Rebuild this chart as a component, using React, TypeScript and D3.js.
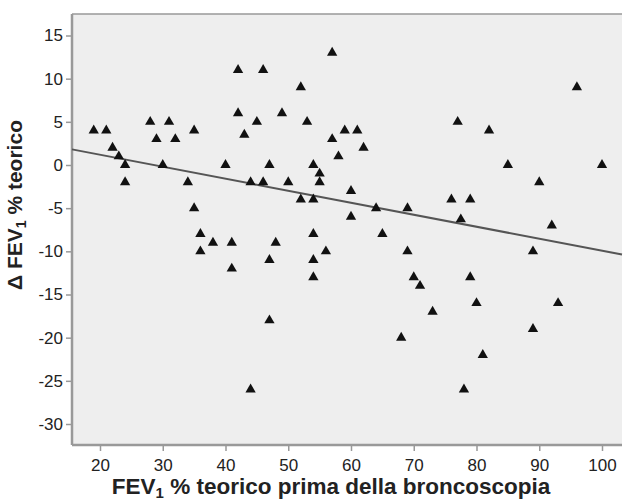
import React, { useEffect, useRef } from "react";
import * as d3 from "d3";

// FEV1 % teorico prima della broncoscopia
const fevBefore = [
  19, 21, 22, 23, 24, 24, 28, 29, 31, 32, 30, 35, 34, 35, 36, 36, 38, 41, 41, 40,
  42, 42, 43, 45, 46, 47, 44, 46, 48, 47, 47, 44, 49, 50, 52, 53, 52, 54, 54, 55,
  55, 54, 54, 54, 56, 57, 59, 61, 57, 62, 58, 60, 60, 64, 65, 69, 69, 70, 71, 73,
  68, 77, 82, 76, 79, 77.5, 79, 80, 81, 78, 85, 90, 89, 89, 92, 93, 96, 100,
];
// Delta FEV1 % teorico
const deltaFev = [
  4, 4, 2, 1, 0, -2, 5, 3, 5, 3, 0, 4, -2, -5, -8, -10, -9, -9, -12, 0,
  11, 6, 3.5, 5, 11, 0, -2, -2, -9, -11, -18, -26, 6, -2, 9, 5, -4, -4, 0, -1,
  -2, -8, -11, -13, -10, 13, 4, 4, 3, 2, 1, -3, -6, -5, -8, -5, -10, -13, -14, -17,
  -20, 5, 4, -4, -4, -6.3, -13, -16, -22, -26, 0, -2, -10, -19, -7, -16, 9, 0,
];
const xTicks = [20, 30, 40, 50, 60, 70, 80, 90, 100];
const yTicks = [15, 10, 5, 0, -5, -10, -15, -20, -25, -30];
// linear fit line
const fitIntercept = 3.97;
const fitSlope = -0.139;

const W = 626;
const H = 500;

export default function App() {
  const ref = useRef<SVGSVGElement>(null);

  useEffect(() => {
    const svg = d3.select(ref.current);
    svg.selectAll("*").remove();

    const left = 72, right = 622, top = 14, bottom = 445;
    const x = d3.scaleLinear().domain([20, 100]).range([100, 602]);
    const y = d3.scaleLinear().domain([0, -30]).range([165, 424]);
    const font = "Liberation Sans, Arial, Helvetica, sans-serif";

    svg.append("rect")
      .attr("x", left).attr("y", top)
      .attr("width", right - left).attr("height", bottom - top)
      .attr("fill", "#eeeeee");

    svg.append("line")
      .attr("x1", left).attr("x2", right).attr("y1", top).attr("y2", top)
      .attr("stroke", "#999").attr("stroke-width", 1.5);

    // axes
    const gy = svg.append("g").attr("transform", `translate(${left},0)`)
      .call(d3.axisLeft(y).tickValues(yTicks).tickSize(6).tickPadding(3).tickFormat((d) => String(d)));
    const gx = svg.append("g").attr("transform", `translate(0,${bottom})`)
      .call(d3.axisBottom(x).tickValues(xTicks).tickSize(6).tickPadding(8).tickFormat((d) => String(d)));
    [gx, gy].forEach((g) => {
      g.select(".domain").remove();
      g.selectAll(".tick line").attr("stroke", "#999").attr("stroke-width", 1.5);
      g.selectAll(".tick text").attr("fill", "#222").attr("font-size", 17).attr("font-family", font);
    });
    svg.append("line")
      .attr("x1", left).attr("x2", left).attr("y1", top).attr("y2", bottom)
      .attr("stroke", "#999").attr("stroke-width", 2.5);
    svg.append("line")
      .attr("x1", left).attr("x2", right).attr("y1", bottom).attr("y2", bottom)
      .attr("stroke", "#999").attr("stroke-width", 2.5);

    // fit line
    const x0 = x.invert(left), x1 = x.invert(right);
    svg.append("line")
      .attr("x1", left).attr("y1", y(fitIntercept + fitSlope * x0))
      .attr("x2", right).attr("y2", y(fitIntercept + fitSlope * x1))
      .attr("stroke", "#555").attr("stroke-width", 2);

    // points
    const tri = d3.symbol().type(d3.symbolTriangle).size(46);
    svg.append("g").selectAll("path")
      .data(fevBefore.map((v, i) => [v, deltaFev[i]]))
      .enter().append("path")
      .attr("d", tri)
      .attr("transform", (d) => `translate(${x(d[0])},${y(d[1])})`)
      .attr("fill", "#111");

    // titles
    const xt = svg.append("text")
      .attr("x", 331).attr("y", 494)
      .attr("text-anchor", "middle")
      .attr("font-family", font).attr("font-weight", "bold").attr("font-size", 22.5)
      .attr("fill", "#222");
    xt.append("tspan").text("FEV");
    xt.append("tspan").text("1").attr("font-size", 15).attr("dy", 4);
    xt.append("tspan").text(" % teorico prima della broncoscopia").attr("dy", -4);

    const yt = svg.append("text")
      .attr("transform", `translate(22,205) rotate(-90)`)
      .attr("text-anchor", "middle")
      .attr("font-family", font).attr("font-weight", "bold").attr("font-size", 21)
      .attr("fill", "#222");
    yt.append("tspan").text("Δ FEV");
    yt.append("tspan").text("1").attr("font-size", 14).attr("dy", 4);
    yt.append("tspan").text(" % teorico").attr("dy", -4);
  }, []);

  return (
    <svg
      ref={ref}
      width={W}
      height={H}
      style={{ position: "absolute", left: 0, top: 0, background: "#fff" }}
    />
  );
}
